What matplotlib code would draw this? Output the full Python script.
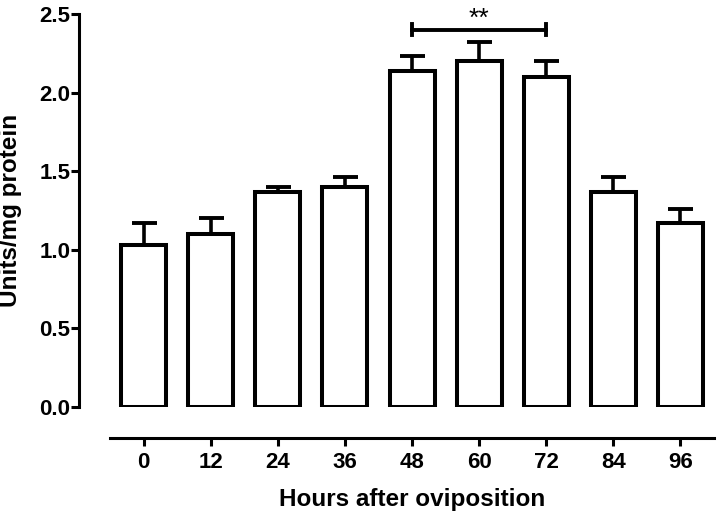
import numpy as np
import matplotlib.pyplot as plt

plt.rcParams['font.family'] = ['Liberation Sans', 'DejaVu Sans']
plt.rcParams['font.weight'] = 'bold'

hours = ["0", "12", "24", "36", "48", "60", "72", "84", "96"]
means = [1.03, 1.10, 1.37, 1.40, 2.14, 2.20, 2.10, 1.37, 1.17]
sem = [0.14, 0.10, 0.03, 0.06, 0.09, 0.12, 0.10, 0.09, 0.09]
sig_from, sig_to = 4, 6
sig_y = 2.40

fig = plt.figure(figsize=(7.2, 5.15), dpi=100)
ax = fig.add_axes([0.1528, 0.2097, 0.8389, 0.7631])

x = np.arange(len(hours))
ax.bar(x, means, width=0.67, color="white", edgecolor="black", linewidth=2.9, zorder=2)
ax.errorbar(x, means, yerr=[np.zeros(len(sem)), sem], fmt="none", ecolor="black",
            elinewidth=2.6, capsize=9, capthick=2.8, zorder=1)

# significance bracket
ax.plot([sig_from, sig_to], [sig_y, sig_y], color="black", lw=2.8, clip_on=False)
for xx in (sig_from, sig_to):
    ax.plot([xx, xx], [sig_y - 0.035, sig_y + 0.035], color="black", lw=2.8, clip_on=False)
ax.text((sig_from + sig_to) / 2, sig_y + 0.025, "**", ha="center", va="baseline",
        fontsize=19, fontweight="normal", clip_on=False)

ax.set_xlim(-0.5, 8.5)
ax.set_ylim(0, 2.5)
ax.set_yticks([0, 0.5, 1.0, 1.5, 2.0, 2.5])
ax.set_yticklabels(["0.0", "0.5", "1.0", "1.5", "2.0", "2.5"])
ax.set_xticks(x)
ax.set_xticklabels(hours)

for s in ("top", "right"):
    ax.spines[s].set_visible(False)
ax.spines["left"].set_position(("outward", 22))
ax.spines["bottom"].set_position(("outward", 22))
ax.spines["left"].set_linewidth(2.2)
ax.spines["bottom"].set_linewidth(2.2)
ax.tick_params(axis="both", width=2.2, length=5.5, labelsize=16)
ax.tick_params(axis="y", pad=1)
ax.tick_params(axis="x", pad=5)

ax.set_ylabel("Units/mg protein", fontsize=17.5, fontweight="bold")
ax.set_xlabel("Hours after oviposition", fontsize=17.5, fontweight="bold")
ax.yaxis.set_label_coords(-0.145, 0.5)
ax.xaxis.set_label_coords(0.5, -0.205)

fig.savefig("out.png", dpi=100)
